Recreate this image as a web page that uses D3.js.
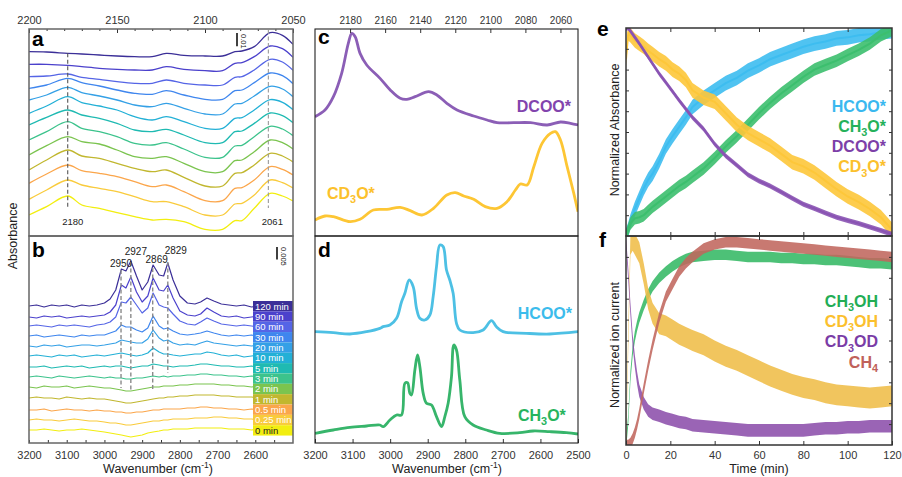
<!DOCTYPE html>
<html><head><meta charset="utf-8">
<script src="https://cdn.jsdelivr.net/npm/d3@7"></script>
<style>body{margin:0;background:#fff}svg{font-family:"Liberation Sans",Arial,Helvetica,sans-serif}</style>
</head><body>
<svg id="chart" width="902" height="477"></svg>
<script>
// ================= DATA =================
const timeLabels = ["120 min","90 min","60 min","30 min","20 min","10 min","5 min","3 min","2 min","1 min","0.5 min","0.25 min","0 min"];
const timeColors = ["#3b2f98","#4b41cc","#5565e6","#3f86ee","#34a0e6","#23b0d6","#1fbab2","#3cc38c","#7bc44f","#c1b72f","#fba64b","#f9cb3c","#f2ee10"];

// panel a (2200-2050 cm-1), offset spectra in mAbs, top = 120 min
const aTopTicks = [2200,2150,2100,2050];
const aWave = [2200,2190,2178,2170,2160,2150,2140,2130,2122,2112,2100,2090,2083,2079,2072,2063,2056,2050];
const aSpec120 = [138.25,138,137,136.5,135.75,135,134.5,134.5,137,135.5,135,135,138.25,138.75,142,152.5,150.5,143.75];
const aSpec90  = [128.75,128.75,128,127,125.75,125,124.5,124.5,127,125,124,124,129.5,130,134.5,142.5,140.5,134];
const aSpec60  = [119.5,120,121.5,119,117.5,115.75,114.5,114.5,117,114.5,113.25,113.25,119,119.5,124.5,132.5,130.5,124.25];
const aSpec30  = [110.75,113.25,118.25,115,112.5,109.5,107,106.25,109,105.75,102.5,102.5,109,109.5,115,122.25,120.25,114.25];
const aSpec20  = [102,105.75,111.5,107.5,105,102,98.25,97,99.5,95.75,91.5,91.5,99,99.5,105,112.25,110.25,104.5];
const aSpec10  = [92,97.5,104.5,100,97.5,94.5,89.5,87,89.5,85.75,80.75,80.75,88.25,88.75,94.5,102.25,100.25,94.75];
const aSpec5   = [83.25,89,94.5,90.75,88.25,84.5,79.5,78.25,80,75.75,70,70,78.25,78.75,84.5,92.25,90.25,85];
const aSpec3   = [72,78.25,85.75,80.75,78.25,74.5,69.5,68.25,70,65.25,59,59,67.5,68,74.5,82.25,80.25,75.25];
const aSpec2   = [60.75,67.75,74.5,70.75,69,64.5,59.5,58.25,59.5,54.5,48.25,48.25,56.5,57,63.25,72,70,65.25];
const aSpec1   = [49.5,57,64.5,60,58.25,54.5,50.75,48.25,49.5,44,37.5,37.5,47,47.5,53.25,62,60,55.5];
const aSpec05  = [39.5,46.5,53.25,49,47,44.5,40.75,37,38.25,33.25,26.5,26.5,35.75,36.25,42,52,50,45.75];
const aSpec025 = [27.5,34.5,42,38.25,35.75,33.25,29.5,25.75,25.75,22,15.75,15.75,24,24.5,30.75,42,40,36];
const aSpec0   = [15.75,22,30,23.25,20.75,17.5,14.5,12,12.5,10.75,5,5,11.5,11.5,20.75,32,30,26.25];
const aSpectra = [aSpec120,aSpec90,aSpec60,aSpec30,aSpec20,aSpec10,aSpec5,aSpec3,aSpec2,aSpec1,aSpec05,aSpec025,aSpec0];
const aMarkWave = [2178,2064];
const aMarkLabels = ["2180","2061"];
const aMarkTop = [137,154.5];
const aMarkBottom = 21;

// panel b (3200-2500 cm-1): baseline offsets + signals, mAbs
const bTicks = [3200,3100,3000,2900,2800,2700,2600];
const bWave = [3200,3180,3160,3140,3120,3100,3080,3060,3040,3020,3000,2985,2970,2955,2943,2930,2915,2900,2885,2871,2855,2843,2832,2818,2800,2780,2760,2745,2728,2710,2690,2670,2650,2630,2610,2590,2570,2550,2530,2510,2500];
const bOffsets = [54.8,50.4,46.8,42.8,38.8,34.8,30.4,26.4,22.4,18,13.2,9.2,5.2];
const bSig120 = [0,0.4,-0.4,0.4,0,0.4,-0.4,0.4,0,0.4,1.2,2.8,6.4,14.8,14,18,12,6.4,9.6,16.4,12.4,12,17.2,10.4,4,1.2,0.8,1.6,3.2,2,0.8,0.4,0,0.4,-0.4,0,0.4,0,0.4,0,0.4];
const bSig90  = [0,-0.4,0.4,0,0.4,-0.4,0,0.4,0,0.4,0.8,2,4.8,12.8,11.6,16,10,6,8.4,15.6,10.8,10.4,12.8,7.6,2.4,0.8,0.4,1.2,3.6,2,0.4,0,0.4,-0.4,0,0.4,0,0.4,-0.4,0,0.4];
const bSig60  = [0,0.4,0,-0.4,0.4,0,0.4,0,-0.4,0.4,0.8,1.6,3.6,9.6,9.2,11.6,8.4,5.2,7.2,13.2,8.4,7.6,7.2,4.8,2,0.8,0.4,1.6,3.2,2,0.8,0.4,0,0.4,0,-0.4,0.4,0,0.4,0,0];
const bSig30  = [0,0.4,-0.4,0,0.4,0,-0.4,0.4,0,0.4,0.4,1.2,2,4.4,3.6,3.6,2.4,1.6,3.2,8,4,2.8,3.2,2,0.8,0.4,0.8,1.2,2,1.2,0.4,0,0.4,0,0.4,-0.4,0,0.4,0,0.4,0];
const bSig20  = [0,-0.4,0.4,0,0.4,-0.4,0,0.4,0.4,0,0.4,0.8,1.2,2.4,2,1.6,1.2,1.2,2.8,6.4,3.2,2,2.4,1.2,0.4,0.8,0.4,1.2,2,1.2,0.8,0.4,0,0.4,0,0.4,-0.4,0,0.4,0,0.4];
const bSig10  = [0,0.4,0,-0.4,0.4,0,0.4,-0.4,0,0.4,0,0.4,0.8,1.2,0.8,0.4,0,0.4,1.2,3.2,1.6,0.8,0.8,0.4,0,0.4,0.8,0.8,1.6,1.2,0.4,0,0.4,-0.4,0,0.4,0,0.4,0,-0.4,0];
const bSig5   = [0,0,0.4,-0.4,0,0.4,0,0.4,-0.4,0,0.4,0,0.4,0.4,0,-0.4,0,0.4,0.4,1.2,0.8,0.4,0.4,0,0.4,0.4,0.8,1.2,1.2,0.8,0.4,0.4,0,0,0.4,-0.4,0,0.4,0,0.4,0];
const bSig3   = [0,0.4,0,-0.4,0.4,0,-0.4,0,0.4,0,-0.4,0,-0.4,-0.4,-0.8,-0.8,-0.4,-0.4,0,0.4,0,0.4,0,0.4,0.4,0.8,0.8,1.2,1.2,0.8,0.8,0.4,0.4,0,0.4,0,-0.4,0,0.4,0,0];
const bSig2   = [0,-0.4,0.4,0,0,0.4,-0.4,0,0.4,0,-0.4,-0.4,-0.8,-1.2,-1.6,-1.6,-1.2,-0.8,-0.4,0,0,0.4,0.4,0.4,0.8,0.8,1.2,1.2,1.2,1.2,0.8,0.8,0.4,0.4,0,0.4,0,-0.4,0,0.4,0];
const bSig1   = [0,0.4,0,0,-0.4,0.4,0,-0.4,0,-0.4,-0.4,-0.8,-1.2,-1.6,-2,-2,-1.6,-1.2,-0.8,-0.4,0,0,0.4,0.4,0.8,0.8,1.2,1.2,1.2,1.2,0.8,0.8,0.4,0.4,0.4,0,0.4,0,-0.4,0,0];
const bSig05  = [0,0,0.4,-0.4,0,0.4,0,0,-0.4,0,-0.4,-0.4,-0.8,-0.8,-1.2,-1.2,-0.8,-0.8,-0.4,0,0,0.4,0.4,0.4,0.4,0.8,0.8,1.2,1.2,0.8,0.8,0.4,0.4,0,0.4,0,0.4,0,-0.4,0,0];
const bSig025 = [0,0.4,0,0,-0.4,0,0.4,0,-0.4,-0.4,-0.8,-1.2,-1.2,-1.6,-2,-2,-1.6,-1.2,-0.8,-0.4,-0.4,0,0,0.4,0.4,0.4,0.8,0.8,0.8,1.2,1.2,0.8,0.8,0.4,0.4,0,0.4,0,0,0.4,0];
const bSig0   = [0,0,0.4,0,-0.4,0,0,0.4,0,-0.4,-0.8,-1.2,-1.6,-2,-2.4,-2.8,-2.4,-2,-1.2,-0.8,-0.4,0,0,0.4,0.4,0.4,0.8,0.8,0.8,0.8,0.8,0.4,0.4,0.4,0,0.4,0,0,0.4,0,0];
const bSignals = [bSig120,bSig90,bSig60,bSig30,bSig20,bSig10,bSig5,bSig3,bSig2,bSig1,bSig05,bSig025,bSig0];
const bMarkWave = [2956,2930,2872,2832];
const bMarkLabels = ["2950","2927","2869","2829"];
const bMarkTop = [69.2,72.4,70,72.4];
const bMarkBottom = [22,21.2,21.6,28];

// panel c (2200-2050 cm-1)
const cTicks = [2180,2160,2140,2120,2100,2080,2060];
const cDcooWave = [2200,2194.3,2189.5,2184.8,2181,2179,2177.1,2174.3,2170.5,2162.9,2157.1,2151.4,2147.6,2142.9,2135.2,2130.5,2124.8,2119,2109.5,2101.9,2096.2,2086.7,2077.1,2067.6,2060,2054.3,2050];
const cDcooVal  = [35.8,37.8,41.8,48.8,57.8,60.8,59.8,54.8,51.3,47.3,43.8,41.3,41,41.8,43.3,42.3,39.8,37.8,36,34.8,34,34,34,33.3,34.2,33.8,33.3];
const cCd3oWave = [2200,2194.3,2189.5,2180,2174.3,2166.7,2159,2151.4,2145.7,2139,2132.4,2124.8,2120,2115.2,2109.5,2102.9,2096.2,2090.5,2085.7,2082.9,2079,2075.2,2070.5,2065.7,2062.9,2060,2056.2,2052.4,2050];
const cCd3oVal  = [4.8,6,5.8,4.3,5,7.8,8,8.6,7.6,6.3,8.3,12.3,13,12,11,8.8,8.3,10.3,13.8,15.6,15.3,20.8,27.8,30.8,31.3,28.8,20.8,12.8,7.3];

// panel d (3200-2500 cm-1)
const dTicks = [3200,3100,3000,2900,2800,2700,2600,2500];
const dHcooWave = [3200,3151.3,3107,3062.7,3027.2,3018.4,3000.6,2982.9,2969.6,2960.8,2949.3,2938.6,2929.8,2920.9,2907.6,2894.3,2885.5,2876.6,2867.7,2858.9,2850,2841.2,2832.3,2823.4,2814.6,2779.1,2752.5,2730.4,2717.1,2699.4,2637.3,2575.3,2500];
const dHcooVal  = [33.4,33.1,32.7,33.4,34.4,34.9,35.4,37.4,42.4,44.9,48.9,46.9,40.4,37.4,36.9,38.4,43.9,52.9,59.4,58.9,51.9,48.9,44.9,35.9,33.9,33.1,33.9,36.7,34.9,33.4,32.9,32.7,33.4];
const dCh3oWave = [3200,3151.3,3107,3062.7,3027.2,3018.4,3000.6,2982.9,2969.6,2960.8,2953.7,2947.5,2943.1,2934.2,2927.1,2920.9,2912,2903.2,2889.9,2876.6,2863.3,2854.4,2845.6,2836.7,2830.5,2823.4,2814.6,2801.3,2779.1,2743.7,2708.2,2655.1,2619.7,2575.3,2531,2500];
const dCh3oVal  = [2.9,3.9,4.7,5.1,5.4,4.9,6.9,8.4,8.4,17.9,18.1,14.9,14.4,21.9,26.4,22.9,14.9,11.9,11.4,7.9,4.9,7.9,11.9,19.9,29.4,27.9,18.9,7.9,5.4,3.9,2.9,3.1,3.6,3.4,3.1,2.7];

// panel e (time, min) normalized absorbance
const eTime = [0,1,2,4,6,8,10,12,15,18,21,24,27,30,35,40,45,50,55,60,65,70,75,80,85,90,95,100,105,110,115,120];
const eHcoo = [0,0.03,0.07,0.13,0.18,0.23,0.27,0.30,0.36,0.43,0.48,0.525,0.57,0.62,0.665,0.70,0.735,0.76,0.795,0.82,0.85,0.87,0.89,0.91,0.925,0.935,0.95,0.955,0.965,0.97,0.98,0.985];
const eCh3o = [0,0.03,0.06,0.085,0.09,0.10,0.12,0.14,0.165,0.19,0.215,0.24,0.26,0.285,0.325,0.375,0.43,0.48,0.535,0.59,0.64,0.685,0.725,0.765,0.80,0.822,0.843,0.87,0.895,0.925,0.965,0.99];
const eCd3o = [0.85,0.975,0.965,0.94,0.925,0.91,0.89,0.875,0.85,0.83,0.80,0.78,0.75,0.70,0.665,0.645,0.59,0.535,0.495,0.465,0.435,0.395,0.355,0.335,0.305,0.265,0.225,0.19,0.163,0.13,0.09,0.03];
const eDcoo = [1.0,1.0,0.985,0.955,0.925,0.893,0.86,0.828,0.78,0.738,0.695,0.652,0.61,0.57,0.515,0.442,0.385,0.34,0.295,0.265,0.24,0.212,0.182,0.153,0.132,0.11,0.09,0.075,0.06,0.043,0.027,0.008];
const eNoise = [0.035,0.03,0.035,0.012];   // HCOO, CH3O, CD3O, DCOO noise half-width
const eNames = ["HCOO*","CH3O*","DCOO*","CD3O*"];

// panel f (time, min) normalized ion current
const fTime = [0,1,2,3,4,5,6,8,10,12,15,18,21,24,27,30,35,40,45,50,55,60,65,70,75,80,85,90,95,100,105,110,115,120];
const fCh3oh = [0,0.12,0.33,0.45,0.52,0.57,0.61,0.67,0.72,0.76,0.80,0.83,0.855,0.875,0.89,0.90,0.905,0.91,0.91,0.905,0.9,0.9,0.9,0.895,0.895,0.89,0.89,0.885,0.885,0.88,0.875,0.87,0.87,0.865];
const fCd3oh = [0,0.5,0.96,0.98,0.96,0.94,0.92,0.82,0.70,0.63,0.58,0.57,0.55,0.53,0.515,0.50,0.48,0.45,0.425,0.405,0.38,0.355,0.33,0.31,0.29,0.275,0.265,0.25,0.24,0.235,0.23,0.225,0.23,0.235];
const fCd3od = [0.97,0.82,0.65,0.5,0.4,0.32,0.26,0.2,0.165,0.15,0.14,0.128,0.12,0.11,0.105,0.095,0.09,0.085,0.08,0.075,0.07,0.07,0.07,0.07,0.07,0.07,0.075,0.08,0.08,0.085,0.085,0.09,0.09,0.09];
const fCh4   = [0,0,0.01,0.03,0.06,0.10,0.15,0.27,0.38,0.48,0.61,0.71,0.77,0.83,0.87,0.90,0.94,0.96,0.97,0.97,0.965,0.96,0.955,0.95,0.945,0.94,0.935,0.93,0.925,0.92,0.915,0.91,0.905,0.9];
const fNoise = [0.025,0.05,0.03,0.025]; // CH3OH, CD3OH, CD3OD, CH4
const fTicks = [0,20,40,60,80,100,120];

// ================= DRAWING =================
const svg = d3.select("#chart");
const FONT = '"Liberation Sans", Arial, Helvetica, sans-serif';

function rich(sel, parts, size){
  const off = k => k==="sub" ? size*0.28 : (k==="sup" ? -size*0.38 : 0);
  let prev = 0;
  parts.forEach(([t,k])=>{
    const o = off(k);
    sel.append("tspan").attr("dy", o - prev).attr("font-size", k==="n"? size : size*0.68).text(t);
    prev = o;
  });
}
function styleAxis(g, size, color){
  g.select(".domain").remove();
  g.selectAll("text").attr("font-family", FONT).attr("font-size", size).attr("fill", color||"#333");
  g.selectAll("line").attr("stroke", "#333");
}
function clip(id, x, y, w, h){
  svg.append("clipPath").attr("id", id).append("rect").attr("x",x).attr("y",y).attr("width",w).attr("height",h);
}

// ---------- panel a ----------
const ax = d3.scaleLinear().domain([2200,2050]).range([29,293]);
const ay = d3.scaleLinear().domain([0,155.25]).range([236,29]);
clip("clipA",29,29,264,207);
const gA = svg.append("g").attr("clip-path","url(#clipA)");
const aLine = d3.line().x((d,i)=>ax(aWave[i])).y(d=>ay(d)).curve(d3.curveCatmullRom.alpha(0.5));
aSpectra.forEach((s,i)=>{
  gA.append("path").attr("d", aLine(s)).attr("fill","none").attr("stroke", timeColors[i]).attr("stroke-width",1.3);
});
aMarkWave.forEach((w,i)=>{
  svg.append("line").attr("x1",ax(w)).attr("x2",ax(w)).attr("y1",ay(aMarkTop[i])).attr("y2",ay(aMarkBottom))
    .attr("stroke", i===0 ? "#555" : "#999").attr("stroke-width",1.1).attr("stroke-dasharray","4,2.5");
  svg.append("text").attr("x",ax(w)+ (i===0?5:4)).attr("y",ay(aMarkBottom)+17).attr("text-anchor","middle")
    .attr("font-family",FONT).attr("font-size",9.5).attr("fill","#222").text(aMarkLabels[i]);
});
// scale bar a
svg.append("line").attr("x1",237).attr("x2",237).attr("y1",33).attr("y2",33+(ay(0)-ay(10))).attr("stroke","#111").attr("stroke-width",1.6);
svg.append("text").attr("transform","translate(241,34) rotate(90)").attr("font-family",FONT).attr("font-size",7.5).attr("fill","#222").text("0.01");
// axes a
const gAax = svg.append("g").attr("transform","translate(0,29)")
  .call(d3.axisTop(ax).tickValues(aTopTicks).tickSize(-4).tickPadding(5).tickFormat(d3.format("d")));
styleAxis(gAax, 11);
const gAmin = svg.append("g").attr("transform","translate(0,29)")
  .call(d3.axisTop(ax).tickValues(d3.range(2190,2050,-10)).tickSize(-2).tickFormat(""));
styleAxis(gAmin, 11);

// ---------- panel b ----------
const bx = d3.scaleLinear().domain([3200,2500]).range([29,293]);
const by = d3.scaleLinear().domain([0,82.8]).range([443,236]);
clip("clipB",29,236,264,207);
const gB = svg.append("g").attr("clip-path","url(#clipB)");
bSignals.forEach((s,i)=>{
  const ln = d3.line().x((d,j)=>bx(bWave[j])).y(d=>by(bOffsets[i]+d));
  gB.append("path").attr("d", ln(s)).attr("fill","none").attr("stroke", timeColors[i]).attr("stroke-width",1.2).attr("stroke-linejoin","round");
});
bMarkWave.forEach((w,i)=>{
  svg.append("line").attr("x1",bx(w)).attr("x2",bx(w)).attr("y1",by(bMarkTop[i])).attr("y2",by(bMarkBottom[i]))
    .attr("stroke","#8a8a8a").attr("stroke-width",1.4).attr("stroke-dasharray","4,2.5");
});
const bLabDx = [0,5,4,8], bLabDy = [-3.5,-7.5,-5.5,-8.5];
bMarkWave.forEach((w,i)=>{
  svg.append("text").attr("x",bx(w)+bLabDx[i]).attr("y",by(bMarkTop[i])+bLabDy[i]).attr("text-anchor","middle")
    .attr("font-family",FONT).attr("font-size",10).attr("fill","#222").text(bMarkLabels[i]);
});
// legend boxes
timeLabels.forEach((t,i)=>{
  const y0 = 301 + i*10.35;
  svg.append("rect").attr("x",253).attr("y",y0).attr("width",40).attr("height",10.35).attr("fill",timeColors[i]);
  svg.append("text").attr("x",255).attr("y",y0+8.6).attr("font-family",FONT).attr("font-size",9.5)
    .attr("fill", i===12 ? "#222" : "#fff").text(t);
});
// scale bar b
svg.append("line").attr("x1",277).attr("x2",277).attr("y1",247).attr("y2",247+(by(0)-by(5))).attr("stroke","#111").attr("stroke-width",1.6);
svg.append("text").attr("transform","translate(281,247) rotate(90)").attr("font-family",FONT).attr("font-size",7.5).attr("fill","#222").text("0.005");
const gBax = svg.append("g").attr("transform","translate(0,443)")
  .call(d3.axisBottom(bx).tickValues(bTicks).tickSize(-3).tickPadding(8).tickFormat(d3.format("d")));
styleAxis(gBax, 11);
const gBmin = svg.append("g").attr("transform","translate(0,443)")
  .call(d3.axisBottom(bx).tickValues(d3.range(3150,2500,-100)).tickSize(-3).tickFormat(""));
styleAxis(gBmin, 11);

// ---------- panel c ----------
const cx = d3.scaleLinear().domain([2200,2050]).range([315,578]);
const cy = d3.scaleLinear().domain([0,62.1]).range([236,29]);
clip("clipC",315,29,263,207);
const gC = svg.append("g").attr("clip-path","url(#clipC)");
const cLineD = d3.line().x((d,i)=>cx(cDcooWave[i])).y(d=>cy(d)).curve(d3.curveCatmullRom.alpha(0.5));
const cLineY = d3.line().x((d,i)=>cx(cCd3oWave[i])).y(d=>cy(d)).curve(d3.curveCatmullRom.alpha(0.5));
gC.append("path").attr("d",cLineD(cDcooVal)).attr("fill","none").attr("stroke","#8b5eb6").attr("stroke-width",2.8);
gC.append("path").attr("d",cLineY(cCd3oVal)).attr("fill","none").attr("stroke","#fdc634").attr("stroke-width",2.8);
const gCax = svg.append("g").attr("transform","translate(0,29)")
  .call(d3.axisTop(cx).tickValues(cTicks).tickSize(-4).tickPadding(5).tickFormat(d3.format("d")));
styleAxis(gCax, 10);
svg.append("text").attr("x",571).attr("y",111.7).attr("text-anchor","end").attr("font-family",FONT).attr("font-weight","bold")
  .attr("font-size",16).attr("fill","#8244ad").text("DCOO*");
rich(svg.append("text").attr("x",327).attr("y",199).attr("font-family",FONT).attr("font-weight","bold").attr("fill","#fcc12c"),
  [["CD","n"],["3","sub"],["O*","n"]], 16);

// ---------- panel d ----------
const dx = d3.scaleLinear().domain([3200,2500]).range([315,578]);
const dy = d3.scaleLinear().domain([0,62.1]).range([443,236]);
clip("clipD",315,236,263,207);
const gD = svg.append("g").attr("clip-path","url(#clipD)");
const dLineH = d3.line().x((d,i)=>dx(dHcooWave[i])).y(d=>dy(d)).curve(d3.curveCatmullRom.alpha(0.5));
const dLineC = d3.line().x((d,i)=>dx(dCh3oWave[i])).y(d=>dy(d)).curve(d3.curveCatmullRom.alpha(0.5));
gD.append("path").attr("d",dLineH(dHcooVal)).attr("fill","none").attr("stroke","#4dc0e4").attr("stroke-width",2.8);
gD.append("path").attr("d",dLineC(dCh3oVal)).attr("fill","none").attr("stroke","#37b56b").attr("stroke-width",2.8);
const gDax = svg.append("g").attr("transform","translate(0,443)")
  .call(d3.axisBottom(dx).tickValues(dTicks).tickSize(-4).tickPadding(8).tickFormat(d3.format("d")));
styleAxis(gDax, 11);
svg.append("text").attr("x",572).attr("y",319.3).attr("text-anchor","end").attr("font-family",FONT).attr("font-weight","bold")
  .attr("font-size",16).attr("fill","#3cbcec").text("HCOO*");
rich(svg.append("text").attr("x",518).attr("y",421).attr("font-family",FONT).attr("font-weight","bold").attr("fill","#27b45e"),
  [["CH","n"],["3","sub"],["O*","n"]], 16);

// ---------- panel e ----------
const ex = d3.scaleLinear().domain([0,120]).range([626,892]);
const ey = d3.scaleLinear().domain([0,1]).range([236,28]);
clip("clipE",626,28,266,208);
const gE = svg.append("g").attr("clip-path","url(#clipE)");
const eSeries = [[eHcoo,"#3dbdf0",eNoise[0]],[eCh3o,"#3cbf6e",eNoise[1]],[eCd3o,"#fdc73a",eNoise[2]],[eDcoo,"#8953b3",eNoise[3]]];
eSeries.forEach(([s,c,n])=>{
  const ar = d3.area().x((d,i)=>ex(eTime[i])).y0(d=>ey(d-n)).y1(d=>ey(d+n));
  const ln = d3.line().x((d,i)=>ex(eTime[i])).y(d=>ey(d));
  gE.append("path").attr("d",ar(s)).attr("fill",c).attr("opacity",0.9);
  gE.append("path").attr("d",ln(s)).attr("fill","none").attr("stroke",c).attr("stroke-width",2);
});
[["translate(626,0)",d3.axisRight(ey)],["translate(892,0)",d3.axisLeft(ey)]].forEach(([tr,a])=>{
  const g = svg.append("g").attr("transform",tr).call(a.tickValues(d3.range(0.1,1,0.1)).tickSize(3).tickFormat(""));
  styleAxis(g,10);
});
[["translate(0,28)",d3.axisBottom(ex)],["translate(0,236)",d3.axisTop(ex)]].forEach(([tr,a])=>{
  const g = svg.append("g").attr("transform",tr).call(a.tickValues([20,40,60,80,100]).tickSize(4).tickFormat(""));
  styleAxis(g,10);
});
const eLegColors = ["#3ab8ef","#25b15a","#7d3fa8","#fbc02d"];
svg.append("text").attr("x",886).attr("y",111.7).attr("text-anchor","end").attr("font-family",FONT).attr("font-weight","bold").attr("font-size",16).attr("fill",eLegColors[0]).text(eNames[0]);
rich(svg.append("text").attr("x",886).attr("y",131.9).attr("text-anchor","end").attr("font-family",FONT).attr("font-weight","bold").attr("fill",eLegColors[1]),[["CH","n"],["3","sub"],["O*","n"]],16);
svg.append("text").attr("x",886).attr("y",152.1).attr("text-anchor","end").attr("font-family",FONT).attr("font-weight","bold").attr("font-size",16).attr("fill",eLegColors[2]).text(eNames[2]);
rich(svg.append("text").attr("x",886).attr("y",172.3).attr("text-anchor","end").attr("font-family",FONT).attr("font-weight","bold").attr("fill",eLegColors[3]),[["CD","n"],["3","sub"],["O*","n"]],16);

// ---------- panel f ----------
const fx = d3.scaleLinear().domain([0,120]).range([626,892]);
const fy = d3.scaleLinear().domain([0,1]).range([445,236]);
clip("clipF",626,236,266,209);
const gF = svg.append("g").attr("clip-path","url(#clipF)");
const fSeries = [[fCh3oh,"#34b864",fNoise[0]],[fCd3oh,"#efbd48",fNoise[1]],[fCd3od,"#8c4fab",fNoise[2]],[fCh4,"#c0675d",fNoise[3]]];
fSeries.forEach(([s,c,n])=>{
  const ar = d3.area().x((d,i)=>fx(fTime[i])).y0(d=>fy(d-n)).y1(d=>fy(d+n));
  gF.append("path").attr("d",ar(s)).attr("fill",c).attr("opacity",0.88);
});
[["translate(626,0)",d3.axisRight(fy)],["translate(892,0)",d3.axisLeft(fy)]].forEach(([tr,a])=>{
  const g = svg.append("g").attr("transform",tr).call(a.tickValues(d3.range(0.1,1,0.1)).tickSize(3).tickFormat(""));
  styleAxis(g,10);
});
const gFtop = svg.append("g").attr("transform","translate(0,236)").call(d3.axisBottom(fx).tickValues([20,40,60,80,100]).tickSize(4).tickFormat(""));
styleAxis(gFtop,10);
const gFax = svg.append("g").attr("transform","translate(0,445)")
  .call(d3.axisBottom(fx).tickValues(fTicks).tickSize(-4).tickPadding(6));
styleAxis(gFax, 11);
rich(svg.append("text").attr("x",878).attr("y",306.7).attr("text-anchor","end").attr("font-family",FONT).attr("font-weight","bold").attr("fill","#22ad55"),[["CH","n"],["3","sub"],["OH","n"]],16);
rich(svg.append("text").attr("x",878).attr("y",326.9).attr("text-anchor","end").attr("font-family",FONT).attr("font-weight","bold").attr("fill","#fbc02d"),[["CD","n"],["3","sub"],["OH","n"]],16);
rich(svg.append("text").attr("x",878).attr("y",347.3).attr("text-anchor","end").attr("font-family",FONT).attr("font-weight","bold").attr("fill","#7a3ca6"),[["CD","n"],["3","sub"],["OD","n"]],16);
rich(svg.append("text").attr("x",878).attr("y",367.5).attr("text-anchor","end").attr("font-family",FONT).attr("font-weight","bold").attr("fill","#c0615a"),[["CH","n"],["4","sub"]],16);

// ---------- frames ----------
svg.append("rect").attr("x",29).attr("y",29).attr("width",264).attr("height",207).attr("fill","none").attr("stroke","#666").attr("stroke-width",1.5);
svg.append("rect").attr("x",29).attr("y",236).attr("width",264).attr("height",207).attr("fill","none").attr("stroke","#666").attr("stroke-width",1.5);
svg.append("rect").attr("x",315).attr("y",29).attr("width",263).attr("height",207).attr("fill","none").attr("stroke","#222").attr("stroke-width",1.1);
svg.append("rect").attr("x",315).attr("y",236).attr("width",263).attr("height",207).attr("fill","none").attr("stroke","#222").attr("stroke-width",1.1);
svg.append("rect").attr("x",626).attr("y",28).attr("width",266).attr("height",208).attr("fill","none").attr("stroke","#333").attr("stroke-width",1.5);
svg.append("rect").attr("x",626).attr("y",236).attr("width",266).attr("height",209).attr("fill","none").attr("stroke","#333").attr("stroke-width",1.5);

// ---------- panel letters & titles ----------
[["a",32,46],["b",32,257],["c",318,44],["d",318,257],["e",597,36],["f",599,247]].forEach(([t,x,y])=>{
  svg.append("text").attr("x",x).attr("y",y).attr("font-family",FONT).attr("font-weight","bold").attr("font-size",21).attr("fill","#000").text(t);
});
svg.append("text").attr("transform","translate(17,236) rotate(-90)").attr("text-anchor","middle").attr("font-family",FONT).attr("font-size",12.5).attr("fill","#222").text("Absorbance");
svg.append("text").attr("transform","translate(619,130) rotate(-90)").attr("text-anchor","middle").attr("font-family",FONT).attr("font-size",12.5).attr("fill","#222").text("Normalized Absorbance");
svg.append("text").attr("transform","translate(619,345) rotate(-90)").attr("text-anchor","middle").attr("font-family",FONT).attr("font-size",12.5).attr("fill","#222").text("Normalized ion current");
rich(svg.append("text").attr("x",158).attr("y",473).attr("text-anchor","middle").attr("font-family",FONT).attr("fill","#222"),[["Wavenumber (cm","n"],["-1","sup"],[")","n"]],12.5);
rich(svg.append("text").attr("x",447).attr("y",473).attr("text-anchor","middle").attr("font-family",FONT).attr("fill","#222"),[["Wavenumber (cm","n"],["-1","sup"],[")","n"]],12.5);
svg.append("text").attr("x",759).attr("y",473).attr("text-anchor","middle").attr("font-family",FONT).attr("font-size",12.5).attr("fill","#222").text("Time (min)");
</script>
</body></html>
